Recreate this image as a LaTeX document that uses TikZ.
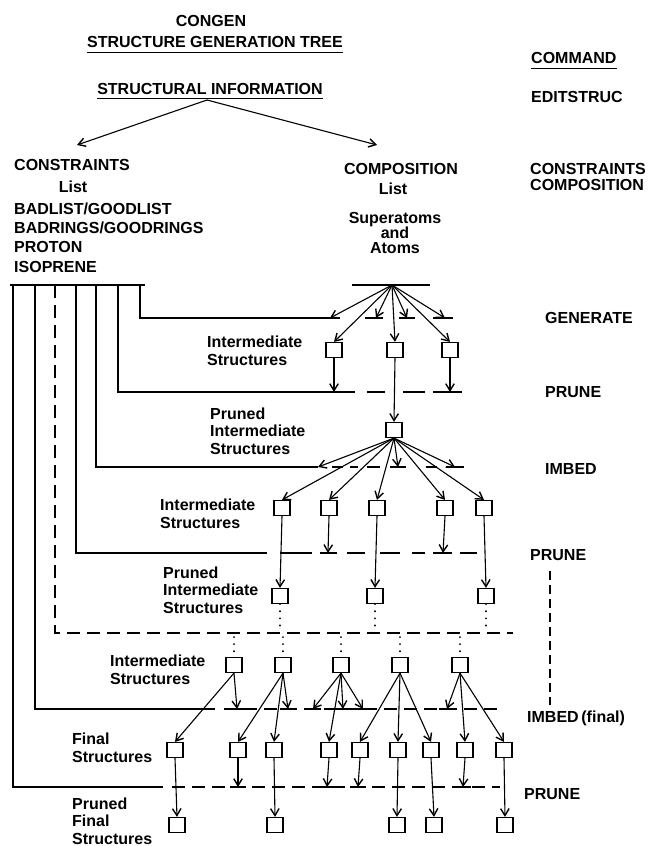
\documentclass[tikz,border=0pt]{standalone}
\usepackage{fontspec}
\setmainfont{Liberation Sans}
\usetikzlibrary{arrows.meta}
\newcommand\mybar[1]{\draw[barl] ([xshift=-8pt]#1) -- ([xshift=8pt]#1);}
\begin{document}
\begin{tikzpicture}[x=1pt,y=-1pt,
 lbl/.style={font=\bfseries\fontsize{16}{17}\selectfont, inner sep=0pt, text depth=0pt},
 blbl/.style={font=\bfseries\fontsize{16}{17.5}\selectfont, inner sep=0pt, align=left},
 box/.style={draw, line width=1.2pt, minimum width=16pt, minimum height=15pt, inner sep=0pt},
 arr/.style={line width=1.1pt, -{Straight Barb[length=7pt,width=8.5pt,line width=1.4pt]}},
 ln/.style={line width=1.2pt},
 dln/.style={line width=1.2pt, dash pattern=on 13pt off 7pt},
 dotl/.style={line width=2pt, dash pattern=on 0.1pt off 7pt, line cap=round},
 barl/.style={line width=1.6pt},
]
\useasboundingbox[fill=white] (0,0) rectangle (649,846);

% ---------- headings ----------
\node[lbl] (congen) at (211,21) {CONGEN};
\node[lbl] (sgt) at (215,42) {STRUCTURE GENERATION TREE};
\draw[ln] ([yshift=-5pt]sgt.south west) -- ([yshift=-5pt]sgt.south east);
\node[lbl] (sinfo) at (210,89) {STRUCTURAL INFORMATION};
\draw[ln] ([yshift=-4pt]sinfo.south west) -- ([yshift=-4pt]sinfo.south east);
\node[lbl, anchor=west] (command) at (531,58) {COMMAND};
\draw[ln] ([yshift=-5pt]command.south west) -- ([yshift=-5pt]command.south east);
\node[lbl, anchor=west] (edit) at (531,97) {EDITSTRUC};

\coordinate (top) at (207,100);
\coordinate (tipL) at (77,145);
\coordinate (tipR) at (377,145);
\draw[arr] (top) -- (tipL);
\draw[arr] (top) -- (tipR);

\node[lbl, anchor=west] (cons) at (14,165) {CONSTRAINTS};
\node[blbl] (clist) at (73,187) {List};
\node[lbl, anchor=west] (badlist) at (14,209) {BADLIST/GOODLIST};
\node[lbl, anchor=west] (badrings) at (14,228) {BADRINGS/GOODRINGS};
\node[lbl, anchor=west] (proton) at (14,247) {PROTON};
\node[lbl, anchor=west] (iso) at (14,267) {ISOPRENE};

\node[lbl] (comp) at (401,169) {COMPOSITION};
\node[blbl] (plist) at (393,189) {List};
\node[blbl, align=center, font=\bfseries\fontsize{16}{15}\selectfont] (supat) at (395,233) {Superatoms\\and\\Atoms};

\node[lbl, anchor=west] (rcons) at (530,169) {CONSTRAINTS};
\node[lbl, anchor=west] (rcomp) at (530,185) {COMPOSITION};

% ---------- commands ----------
\node[lbl, anchor=west] (gen) at (545,318) {GENERATE};
\node[lbl, anchor=west] (prune1) at (545,392) {PRUNE};
\node[lbl, anchor=west] (imbed1) at (545,469) {IMBED};
\node[lbl, anchor=west] (prune2) at (530,555) {PRUNE};
\node[lbl, anchor=west] (imbedf) at (527,717) {IMBED\,(final)};
\node[lbl, anchor=west] (prune3) at (524,794) {PRUNE};
\coordinate (dv1) at (550,571);
\coordinate (dv2) at (550,705);
\draw[ln, dash pattern=on 9pt off 5pt] (dv1) -- (dv2);

% ---------- constraint lines ----------
\draw[ln] (10,285) -- (145,285);
\draw[ln] (13,285) -- (13,787) -- (163,787);
\draw[ln] (35,285) -- (35,709) -- (215,709);
\draw[dln] (55,285) -- (55,633) -- (513,633);
\draw[ln] (76,285) -- (76,553) -- (267,553);
\draw[ln] (96,285) -- (96,467) -- (318,467);
\draw[ln] (118,285) -- (118,392) -- (355,392);
\draw[ln] (140,285) -- (140,318) -- (340,318);

% dashed continuations
\foreach \a/\b in {365/383,399/415,433/453} \draw[barl] (\a,318) -- (\b,318);
\foreach \a/\b in {367/385,403/425} \draw[ln] (\a,392) -- (\b,392);
\draw[barl] (433,392) -- (462,392);
\foreach \a/\b in {332/343,350/358,367/380,426/437} \draw[ln] (\a,467) -- (\b,467);
\foreach \a/\b in {390/406,446/464} \draw[barl] (\a,467) -- (\b,467);
\foreach \a/\b in {280/312,347/365,380/400,412/425,460/477} \draw[ln] (\a,553) -- (\b,553);
\foreach \a/\b in {320/337,433/452} \draw[barl] (\a,553) -- (\b,553);
\draw[dln] (224,709) -- (503,709);
\draw[dln] (172,787) -- (500,787);

% ---------- labels ----------
\node[blbl, anchor=west] (l1) at (207,351) {Intermediate\\Structures};
\node[blbl, anchor=west] (l2) at (210,431) {Pruned\\Intermediate\\Structures};
\node[blbl, anchor=west] (l3) at (160,514) {Intermediate\\Structures};
\node[blbl, anchor=west] (l4) at (163,590) {Pruned\\Intermediate\\Structures};
\node[blbl, anchor=west] (l5) at (110,670) {Intermediate\\Structures};
\node[blbl, anchor=west] (l6) at (72,748) {Final\\Structures};
\node[blbl, anchor=west] (l7) at (72,821) {Pruned\\Final\\Structures};

% ---------- GENERATE ----------
\coordinate (hub) at (392,285);
\draw[ln] (352,285) -- (430,285);
\node[box] (b11) at (334,350) {};
\node[box] (b12) at (395,350) {};
\node[box] (b13) at (450,350) {};
\coordinate (g1) at (330,318);
\coordinate (g2) at (376,318);
\coordinate (g3) at (407,318);
\coordinate (g4) at (445,318);
\foreach \t in {g1,g2,g3,g4,b11.north,b12.north,b13.north} \draw[arr] (hub) -- (\t);

% ---------- PRUNE 1 ----------
\coordinate (p11) at (334,392);
\coordinate (p12) at (450,392);
\node[box] (pi) at (394,430) {};
\draw[arr] (b11.south) -- (p11);
\draw[arr] (b13.south) -- (p12);
\draw[arr] (b12.south) -- (pi.north);

% ---------- IMBED ----------
\coordinate (i1) at (318,467);
\coordinate (i2) at (398,467);
\coordinate (i3) at (455,467);
\node[box] (b21) at (282,508) {};
\node[box] (b22) at (329,508) {};
\node[box] (b23) at (377,508) {};
\node[box] (b24) at (445,508) {};
\node[box] (b25) at (484,508) {};
\foreach \t in {i1,i2,i3,b21.north,b22.north,b23.north,b24.north,b25.north} \draw[arr] (pi.south) -- (\t);

% ---------- PRUNE 2 ----------
\coordinate (q1) at (328,553);
\coordinate (q2) at (443,553);
\node[box] (b31) at (280,596) {};
\node[box] (b32) at (375,596) {};
\node[box] (b33) at (486,596) {};
\draw[arr] (b21.south) -- (b31.north);
\draw[arr] (b22.south) -- (q1);
\draw[arr] (b23.south) -- (b32.north);
\draw[arr] (b24.south) -- (q2);
\draw[arr] (b25.south) -- (b33.north);

% dotted continuation
\coordinate (e1) at (280,630);
\coordinate (e2) at (375,630);
\coordinate (e3) at (486,630);
\draw[dotl] (b31.south) -- (e1);
\draw[dotl] (b32.south) -- (e2);
\draw[dotl] (b33.south) -- (e3);

% ---------- IMBED (final) ----------
\node[box] (c1) at (234,665) {};
\node[box] (c2) at (283,665) {};
\node[box] (c3) at (341,665) {};
\node[box] (c4) at (400,665) {};
\node[box] (c5) at (460,665) {};
\foreach \n/\x in {c1/234,c2/283,c3/341,c4/400,c5/460} {
  \coordinate (s\n) at (\x,637);
  \draw[dotl] (s\n) -- (\n.north);
}
\coordinate (h1) at (237,709);
\coordinate (h2) at (288,709);
\coordinate (h3) at (313,709);
\coordinate (h4) at (343,709);
\coordinate (h5) at (363,709);
\coordinate (h6) at (447,709);
\foreach \h in {h1,h2,h3,h4,h5,h6} \mybar{\h}
\node[box] (f1) at (175,750) {};
\node[box] (f2) at (238,750) {};
\node[box] (f3) at (274,750) {};
\node[box] (f4) at (329,750) {};
\node[box] (f5) at (360,750) {};
\node[box] (f6) at (398,750) {};
\node[box] (f7) at (431,750) {};
\node[box] (f8) at (465,750) {};
\node[box] (f9) at (504,750) {};
\draw[arr] (c1.south) -- (f1.north);
\draw[arr] (c1.south) -- (h1);
\draw[arr] (c2.south) -- (f2.north);
\draw[arr] (c2.south) -- (f3.north);
\draw[arr] (c2.south) -- (h2);
\draw[arr] (c3.south) -- (h3);
\draw[arr] (c3.south) -- (f4.north);
\draw[arr] (c3.south) -- (h4);
\draw[arr] (c3.south) -- (h5);
\draw[arr] (c4.south) -- (f5.north);
\draw[arr] (c4.south) -- (f6.north);
\draw[arr] (c4.south) -- (f7.north);
\draw[arr] (c5.south) -- (h6);
\draw[arr] (c5.south) -- (f8.north);
\draw[arr] (c5.south) -- (f9.north);

% ---------- PRUNE (final) ----------
\coordinate (k1) at (238,787);
\coordinate (k2) at (327,787);
\coordinate (k3) at (358,787);
\coordinate (k4) at (463,787);
\foreach \k in {k1,k2,k3,k4} \mybar{\k}
\node[box] (r1) at (177,825) {};
\node[box] (r2) at (275,825) {};
\node[box] (r3) at (397,825) {};
\node[box] (r4) at (434,825) {};
\node[box] (r5) at (505,825) {};
\draw[arr] (f1.south) -- (r1.north);
\draw[arr] (f2.south) -- (k1);
\draw[arr] (f3.south) -- (r2.north);
\draw[arr] (f4.south) -- (k2);
\draw[arr] (f5.south) -- (k3);
\draw[arr] (f6.south) -- (r3.north);
\draw[arr] (f7.south) -- (r4.north);
\draw[arr] (f8.south) -- (k4);
\draw[arr] (f9.south) -- (r5.north);
\end{tikzpicture}
\end{document}
